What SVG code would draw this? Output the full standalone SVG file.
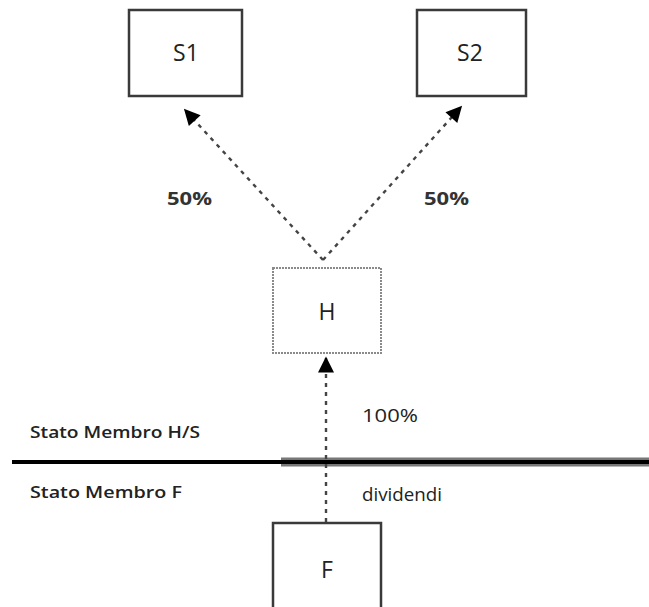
<svg xmlns="http://www.w3.org/2000/svg" width="649" height="607" viewBox="0 0 649 607">
<defs>
<style>
.box{fill:#fff;stroke:#3a3a3a;stroke-width:2.5}
.boxh{fill:#fff;stroke:#8a8a8a;stroke-width:2;stroke-dasharray:2 1}
.lbl{font-family:"Open Sans","Liberation Sans",sans-serif;font-size:23px;fill:#222;text-anchor:middle}
.txt{font-family:"Open Sans","Liberation Sans",sans-serif;font-size:17px;fill:#222;font-weight:600}
.plain{font-family:"Open Sans","Liberation Sans",sans-serif;font-size:18px;fill:#222}
.pct{font-family:"Open Sans","Liberation Sans",sans-serif;font-size:18px;fill:#333;font-weight:bold}
.conn{fill:none;stroke:#444;stroke-width:2.4;stroke-dasharray:4 5}
</style>
<marker id="ahb" viewBox="0 0 10 10" refX="9" refY="5" markerWidth="18" markerHeight="16" markerUnits="userSpaceOnUse" orient="auto">
<path d="M0,0 L10,5 L0,10 z" fill="#000"/>
</marker>
</defs>
<rect width="649" height="607" fill="#fff"/>
<g id="separator">
<line x1="12" y1="462" x2="281" y2="462" stroke="#000" stroke-width="4"/>
<line x1="281" y1="462" x2="649" y2="462" stroke="#777" stroke-width="9"/>
<line x1="281" y1="462" x2="649" y2="462" stroke="#000" stroke-width="4"/>
</g>
<g id="connectors">
<line class="conn" x1="323" y1="260" x2="185" y2="110" marker-end="url(#ahb)"/>
<line class="conn" x1="323" y1="260" x2="461" y2="107" marker-end="url(#ahb)"/>
<line class="conn" x1="326" y1="522" x2="326" y2="358" marker-end="url(#ahb)"/>
</g>
<g id="S1">
<rect class="box" x="129" y="10" width="113" height="86"/>
<text class="lbl" x="186" y="61">S1</text>
</g>
<g id="S2">
<rect class="box" x="417" y="10" width="109" height="86"/>
<text class="lbl" x="470" y="61">S2</text>
</g>
<g id="H">
<rect class="boxh" x="273" y="268" width="108" height="85"/>
<text class="lbl" x="327" y="320">H</text>
</g>
<g id="F">
<rect class="box" x="273" y="523" width="108" height="100"/>
<text class="lbl" x="327" y="578">F</text>
</g>
<g id="labels">
<text class="pct" x="167" y="205" textLength="45" lengthAdjust="spacingAndGlyphs">50%</text>
<text class="pct" x="424" y="205" textLength="45" lengthAdjust="spacingAndGlyphs">50%</text>
<text class="plain" x="362" y="422" textLength="56" lengthAdjust="spacingAndGlyphs">100%</text>
<text class="plain" x="362" y="501" textLength="80" lengthAdjust="spacingAndGlyphs">dividendi</text>
<text class="txt" x="30" y="438" textLength="170" lengthAdjust="spacingAndGlyphs">Stato Membro H/S</text>
<text class="txt" x="30" y="498" textLength="152" lengthAdjust="spacingAndGlyphs">Stato Membro F</text>
</g>
</svg>
